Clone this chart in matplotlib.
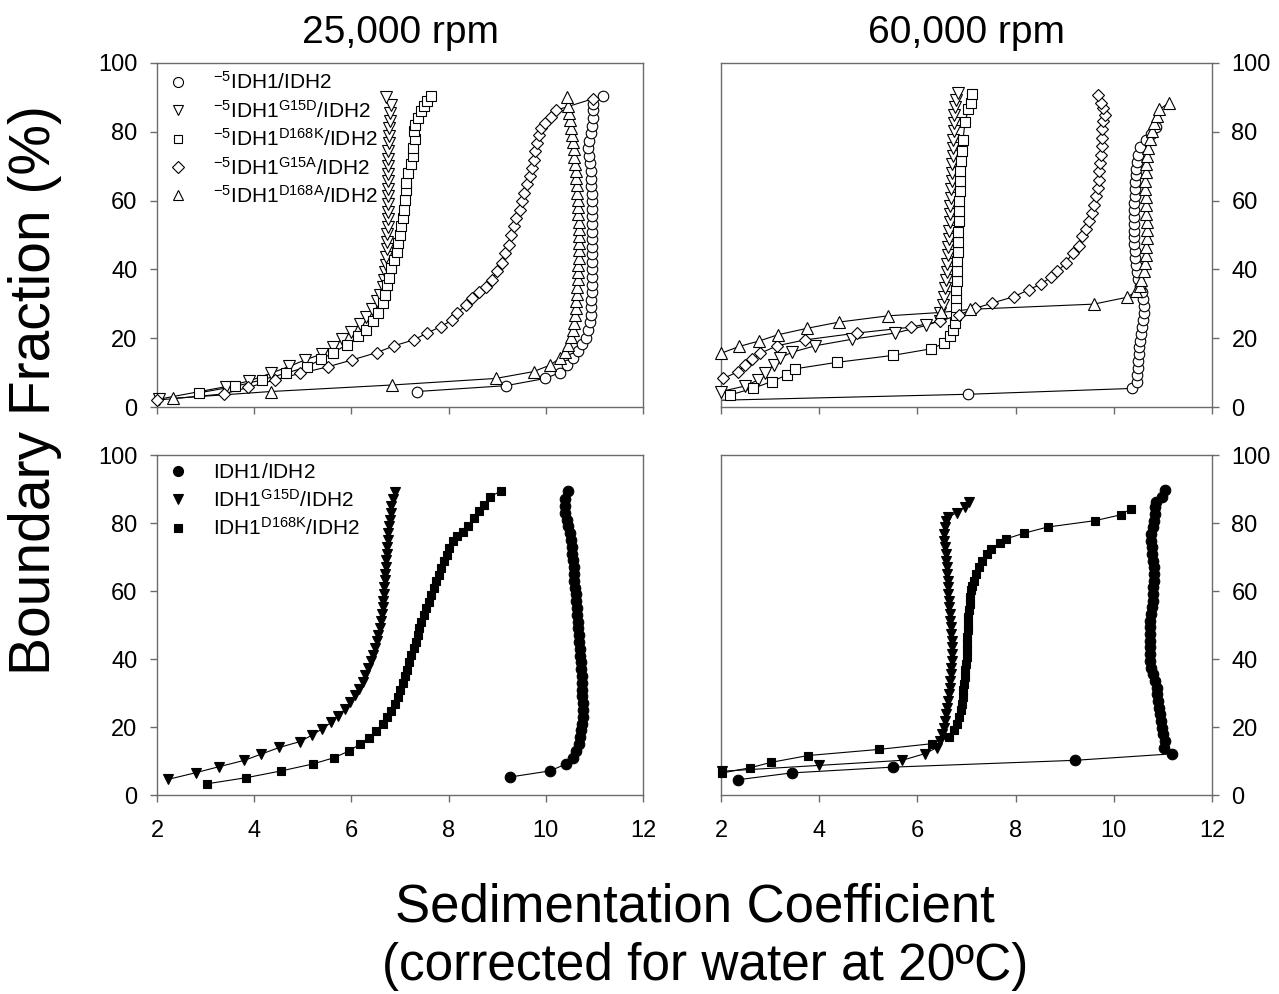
import matplotlib
matplotlib.use('Agg')
import matplotlib.pyplot as plt
from matplotlib.lines import Line2D
import numpy as np

plt.rcParams['font.family'] = ['Liberation Sans', 'DejaVu Sans']
plt.rcParams['mathtext.fontset'] = 'custom'
plt.rcParams['mathtext.rm'] = 'Liberation Sans'
plt.rcParams['mathtext.it'] = 'Liberation Sans:italic'
plt.rcParams['mathtext.bf'] = 'Liberation Sans:bold'
plt.rcParams['mathtext.sf'] = 'Liberation Sans'

# ---------------- data (sedimentation coefficient, boundary fraction %) ----------------
# 25,000 rpm, open symbols (-5 constructs)
o25_wt = [(7.35,4.5),(9.18,6.2),(9.99,8.3),(10.29,10.0),(10.44,12.2),(10.55,14.2),(10.66,16.2),(10.75,18.2),
          (10.82,20.2),(10.87,22.4),(10.90,24.6),(10.92,26.8),(10.93,29.0),(10.94,31.2),(10.95,33.4),(10.95,35.6),
          (10.96,37.8),(10.96,40.0),(10.96,42.2),(10.96,44.4),(10.96,46.6),(10.96,48.8),(10.96,51.0),(10.96,53.2),
          (10.96,55.4),(10.95,57.6),(10.95,59.8),(10.95,62.0),(10.94,64.2),(10.93,66.4),(10.92,68.6),(10.90,70.8),
          (10.88,73.0),(10.87,75.2),(10.88,77.4),(10.92,79.6),(10.96,81.8),(10.98,84.0),(10.98,86.2),(10.98,88.0),
          (11.18,90.3)]
o25_g15d = [(2.05,2.3),(3.41,5.9),(3.90,7.6),(4.34,9.8),(4.72,11.8),(5.05,13.7),(5.39,15.4),(5.62,17.5),(5.80,19.7),
            (6.00,21.9),(6.18,24.2),(6.31,26.3),(6.43,28.4),(6.52,30.7),(6.58,32.6),(6.64,34.9),(6.67,37.0),(6.69,39.2),
            (6.71,41.4),(6.72,43.6),(6.73,45.8),(6.74,48.0),(6.74,50.2),(6.75,52.4),(6.75,54.6),(6.75,56.8),(6.76,59.0),
            (6.76,61.2),(6.76,63.4),(6.76,65.6),(6.76,67.8),(6.76,70.0),(6.76,72.2),(6.76,74.4),(6.77,76.6),(6.77,78.8),
            (6.78,81.0),(6.79,83.2),(6.80,85.5),(6.82,87.8),(6.72,90.0)]
o25_d168k = [(2.86,4.1),(3.61,6.0),(4.16,7.9),(4.65,9.8),(5.09,11.7),(5.38,13.9),(5.63,15.8),(5.90,18.1),(6.14,20.5),
             (6.31,22.4),(6.45,24.9),(6.55,27.3),(6.65,30.2),(6.70,32.6),(6.74,35.5),(6.77,37.5),(6.82,40.4),(6.88,42.8),
             (6.93,45.2),(6.96,47.7),(6.99,50.1),(7.03,52.5),(7.06,55.0),(7.08,57.4),(7.10,60.3),(7.12,63.2),(7.13,65.1),
             (7.16,68.1),(7.23,70.5),(7.27,72.9),(7.27,75.3),(7.30,77.8),(7.28,80.2),(7.30,82.1),(7.37,84.1),(7.44,86.0),
             (7.50,87.5),(7.56,88.9),(7.64,90.4)]
o25_g15a = [(2.00,2.0),(3.37,3.8),(3.88,5.7),(4.43,7.9),(4.95,9.8),(5.52,11.7),(6.02,13.7),(6.52,15.8),(6.88,17.8),
            (7.28,19.5),(7.56,21.5),(7.84,23.4),(8.08,25.3),(8.18,27.3),(8.35,29.7),(8.49,31.7),(8.62,33.3),(8.76,35.0),
            (8.90,37.0),(9.00,39.4),(9.10,41.8),(9.17,44.8),(9.24,47.2),(9.29,50.1),(9.34,52.5),(9.39,55.0),(9.46,57.4),
            (9.51,59.8),(9.56,62.2),(9.61,64.7),(9.67,67.1),(9.71,69.5),(9.75,71.9),(9.78,74.4),(9.82,76.8),(9.85,79.2),
            (9.90,81.2),(9.99,82.6),(10.10,84.3),(10.22,86.3),(10.97,89.6)]
o25_d168a = [(2.33,2.5),(4.34,4.5),(6.84,6.4),(8.97,8.3),(9.75,10.3),(10.09,12.2),(10.29,14.2),(10.39,16.1),(10.46,18.1),
             (10.52,20.3),(10.56,22.4),(10.58,24.5),(10.60,26.6),(10.62,28.7),(10.63,30.8),(10.64,32.9),(10.65,35.0),
             (10.66,37.1),(10.66,39.2),(10.67,41.3),(10.68,43.4),(10.68,45.5),(10.68,47.6),(10.68,49.7),(10.68,51.8),
             (10.68,53.9),(10.67,56.0),(10.67,58.1),(10.66,60.2),(10.65,62.3),(10.64,64.4),(10.63,66.5),(10.62,68.6),
             (10.61,70.7),(10.59,72.8),(10.57,74.9),(10.55,77.0),(10.53,79.1),(10.51,81.2),(10.50,83.3),(10.48,85.4),
             (10.46,87.5),(10.44,90.0)]

# 60,000 rpm, open symbols
o60_wt = [(1.80,1.9),(7.03,3.7),(10.38,5.4),(10.47,7.4),(10.48,9.3),(10.49,11.3),(10.50,13.3),(10.51,15.3),(10.52,17.3),
          (10.54,19.3),(10.56,21.3),(10.58,23.3),(10.60,25.3),(10.61,27.3),(10.61,29.3),(10.60,31.3),(10.57,33.3),
          (10.53,35.3),(10.50,37.3),(10.47,39.3),(10.45,41.3),(10.44,43.3),(10.43,45.3),(10.42,47.3),(10.41,49.3),
          (10.41,51.3),(10.41,53.3),(10.41,55.3),(10.42,57.3),(10.42,59.3),(10.43,61.3),(10.43,63.3),(10.44,65.3),
          (10.45,67.3),(10.46,69.3),(10.47,71.3),(10.49,73.3),(10.53,75.5),(10.65,77.5),(10.76,79.3),(10.86,81.3)]
o60_g15d = [(2.00,4.5),(2.49,6.1),(2.76,7.9),(2.90,10.0),(3.07,12.2),(3.20,14.2),(3.44,15.9),(3.92,17.8),(4.67,19.7),
            (5.55,21.5),(6.18,23.7),(6.46,25.1),(6.47,27.3),(6.52,29.7),(6.55,32.1),(6.57,34.5),(6.59,36.9),(6.60,39.3),
            (6.61,41.7),(6.62,44.1),(6.63,46.5),(6.64,48.9),(6.65,51.3),(6.66,53.7),(6.66,56.1),(6.67,58.5),(6.68,60.9),
            (6.69,63.3),(6.70,65.7),(6.71,68.1),(6.71,70.5),(6.72,72.9),(6.72,75.3),(6.73,77.7),(6.74,80.1),(6.74,82.5),
            (6.75,84.9),(6.77,87.3),(6.79,89.3),(6.82,91.4)]
o60_d168k = [(2.18,3.5),(2.65,5.4),(3.03,7.4),(3.34,9.3),(3.51,11.1),(4.37,13.0),(5.50,15.0),(6.27,16.9),(6.54,18.5),
             (6.66,20.5),(6.73,22.4),(6.76,24.4),(6.78,26.8),(6.78,29.2),(6.79,31.6),(6.79,34.0),(6.80,36.5),(6.80,39.4),
             (6.81,42.3),(6.82,45.2),(6.82,48.1),(6.83,51.0),(6.84,54.0),(6.84,56.9),(6.85,59.8),(6.86,62.7),(6.86,65.6),
             (6.87,68.5),(6.88,71.5),(6.90,74.4),(6.93,77.7),(6.97,82.9),(7.04,86.5),(7.09,88.4),(7.11,90.9)]
o60_g15a = [(2.05,8.3),(2.35,10.3),(2.49,12.2),(2.63,13.9),(2.80,15.6),(3.14,17.8),(3.71,19.5),(4.77,21.5),(5.86,23.2),
            (6.46,24.9),(6.84,26.8),(7.18,28.7),(7.52,30.2),(7.97,32.1),(8.27,34.1),(8.51,35.7),(8.72,37.7),(8.85,39.4),
            (9.02,41.8),(9.16,44.8),(9.29,46.9),(9.36,49.6),(9.43,51.6),(9.50,54.0),(9.56,56.4),(9.60,58.8),(9.63,61.3),
            (9.67,63.7),(9.69,66.1),(9.70,68.5),(9.72,71.0),(9.73,73.4),(9.75,75.8),(9.75,78.3),(9.75,80.7),(9.77,83.1),
            (9.82,85.0),(9.79,87.0),(9.73,88.4),(9.67,90.6)]
o60_d168a = [(2.00,15.6),(2.37,17.6),(2.78,19.2),(3.16,21.0),(3.76,22.9),(4.41,24.7),(5.40,26.5),(6.49,27.5),(7.08,28.4),
             (9.59,29.9),(10.27,31.9),(10.45,33.6),(10.53,35.3),(10.56,37.0),(10.61,39.4),(10.63,41.8),(10.65,44.2),
             (10.66,46.6),(10.67,49.0),(10.67,51.4),(10.67,53.8),(10.66,56.2),(10.65,58.6),(10.65,61.0),(10.64,63.4),
             (10.64,65.8),(10.65,68.2),(10.66,70.6),(10.68,73.0),(10.70,75.4),(10.74,77.8),(10.78,80.2),(10.82,82.6),
             (10.87,84.6),(10.93,86.5),(11.13,88.5)]

# 25,000 rpm, filled symbols
f25_wt = [(9.27,5.3),(10.09,7.1),(10.41,9.1),(10.55,11.0),(10.63,13.0),(10.68,15.0),(10.71,17.0),(10.73,19.0),(10.75,21.0),
          (10.76,23.0),(10.76,25.0),(10.76,27.0),(10.75,29.0),(10.75,31.0),(10.74,33.0),(10.74,35.0),(10.73,37.0),
          (10.72,39.0),(10.71,41.0),(10.70,43.0),(10.69,45.0),(10.68,47.0),(10.67,49.0),(10.66,51.0),(10.65,53.0),
          (10.64,55.0),(10.63,57.0),(10.62,59.0),(10.61,61.0),(10.59,63.0),(10.58,65.0),(10.57,67.0),(10.56,69.0),
          (10.54,71.0),(10.53,73.0),(10.51,75.0),(10.49,77.0),(10.46,79.0),(10.43,81.0),(10.40,83.0),(10.39,85.0),
          (10.40,87.0),(10.45,89.5)]
f25_g15d = [(2.23,4.6),(2.81,6.6),(3.27,8.3),(3.80,10.2),(4.14,12.0),(4.52,14.0),(4.94,15.7),(5.19,17.6),(5.39,19.4),
            (5.59,21.4),(5.73,23.3),(5.87,25.3),(5.97,27.3),(6.07,29.3),(6.16,31.3),(6.23,33.3),(6.29,35.3),(6.35,37.3),
            (6.40,39.3),(6.45,41.3),(6.48,43.2),(6.52,45.2),(6.55,47.2),(6.59,49.2),(6.60,51.2),(6.62,53.2),(6.64,55.2),
            (6.65,57.1),(6.67,59.1),(6.68,61.1),(6.69,63.1),(6.70,65.1),(6.71,67.1),(6.72,69.1),(6.73,71.0),(6.74,73.0),
            (6.75,75.0),(6.76,77.0),(6.78,79.0),(6.79,81.0),(6.81,83.0),(6.82,85.0),(6.85,87.0),(6.89,89.0)]
f25_d168k = [(3.03,3.3),(3.84,5.1),(4.56,7.1),(5.20,9.1),(5.65,11.0),(5.96,13.0),(6.18,15.0),(6.36,16.9),(6.50,18.7),
             (6.65,20.9),(6.74,22.9),(6.82,24.8),(6.89,26.8),(6.95,28.8),(7.01,30.9),(7.06,32.9),(7.11,34.9),(7.15,36.8),
             (7.18,39.1),(7.23,41.1),(7.28,43.1),(7.32,45.0),(7.37,47.0),(7.40,49.0),(7.44,50.9),(7.49,52.9),(7.54,54.9),
             (7.59,56.8),(7.64,58.8),(7.69,60.8),(7.74,62.8),(7.80,64.7),(7.84,66.7),(7.91,68.7),(7.97,70.6),(8.01,72.6),
             (8.10,74.6),(8.18,76.1),(8.29,77.5),(8.39,79.0),(8.52,81.5),(8.63,83.4),(8.73,85.4),(8.86,87.7),(9.07,89.4)]

# 60,000 rpm, filled symbols
f60_wt = [(2.35,4.5),(3.44,6.5),(5.50,8.2),(9.21,10.2),(11.18,12.1),(11.03,13.9),(11.04,15.8),(11.01,17.8),(10.99,19.8),
          (10.97,21.7),(10.95,23.7),(10.93,25.7),(10.90,27.6),(10.89,29.6),(10.88,31.6),(10.84,33.5),(10.79,35.5),
          (10.76,37.5),(10.74,39.4),(10.74,41.4),(10.74,43.4),(10.74,45.3),(10.73,47.3),(10.73,49.3),(10.74,51.2),
          (10.76,53.2),(10.77,55.2),(10.79,57.1),(10.80,59.1),(10.80,61.1),(10.81,63.0),(10.81,65.0),(10.81,67.0),
          (10.80,68.9),(10.78,70.9),(10.77,72.9),(10.76,74.8),(10.76,76.8),(10.79,78.8),(10.82,80.7),(10.84,82.7),
          (10.84,84.7),(10.86,86.1),(10.99,87.6),(11.04,89.6)]
f60_g15d = [(2.03,7.0),(3.99,8.7),(5.69,10.2),(6.16,12.2),(6.39,13.9),(6.47,15.8),(6.50,17.8),(6.54,19.8),(6.56,21.7),
            (6.58,23.7),(6.61,25.7),(6.63,27.6),(6.65,29.6),(6.66,31.6),(6.67,33.5),(6.69,35.5),(6.69,37.5),(6.71,39.4),
            (6.71,41.4),(6.71,43.4),(6.70,45.3),(6.69,47.3),(6.68,49.3),(6.67,51.2),(6.66,53.2),(6.65,55.2),(6.64,57.1),
            (6.63,59.1),(6.62,61.1),(6.62,63.0),(6.61,65.0),(6.60,67.0),(6.59,68.9),(6.58,70.9),(6.56,72.9),(6.55,74.8),
            (6.55,76.8),(6.56,78.8),(6.59,80.7),(6.62,81.7),(6.80,83.0),(6.96,84.7),(7.05,86.1)]
f60_d168k = [(2.03,6.5),(2.59,8.0),(3.02,9.6),(3.77,11.6),(5.21,13.4),(6.30,15.1),(6.64,17.0),(6.74,19.0),(6.81,20.9),
             (6.84,22.9),(6.88,24.9),(6.90,26.8),(6.92,28.8),(6.93,30.8),(6.95,32.7),(6.96,34.7),(6.97,36.7),(6.99,38.6),
             (7.00,40.6),(7.00,42.6),(7.01,44.5),(7.02,46.5),(7.03,48.5),(7.04,50.4),(7.04,52.4),(7.05,54.4),(7.07,56.3),
             (7.08,58.3),(7.10,60.3),(7.12,61.6),(7.15,63.0),(7.20,65.0),(7.25,67.0),(7.32,68.9),(7.41,70.9),(7.50,72.4),
             (7.68,74.0),(7.80,75.3),(8.17,77.0),(8.65,78.8),(9.62,80.7),(10.14,82.4),(10.35,84.2)]

open_labels = [r'$^{\mathrm{-5}}$IDH1/IDH2',
               r'$^{\mathrm{-5}}$IDH1$^{\mathrm{G15D}}$/IDH2',
               r'$^{\mathrm{-5}}$IDH1$^{\mathrm{D168K}}$/IDH2',
               r'$^{\mathrm{-5}}$IDH1$^{\mathrm{G15A}}$/IDH2',
               r'$^{\mathrm{-5}}$IDH1$^{\mathrm{D168A}}$/IDH2']
filled_labels = [r'IDH1$^{\mathrm{ }}$/IDH2',
                 r'IDH1$^{\mathrm{G15D}}$/IDH2',
                 r'IDH1$^{\mathrm{D168K}}$/IDH2']
panel_titles = ['25,000 rpm', '60,000 rpm']
x_ticks = [2, 4, 6, 8, 10, 12]
y_ticks = [0, 20, 40, 60, 80, 100]

# ---------------- styling ----------------
open_markers = [('o', 7.6), ('v', 8.2), ('s', 6.8), ('D', 6.6), ('^', 8.2)]
filled_markers = [('o', 7.6), ('v', 7.4), ('s', 6.2)]
SPINE = '#6b6b6b'

W, H = 1279, 994
fig = plt.figure(figsize=(W / 100, H / 100), dpi=100)


def px_axes(l, t, r, b):
    return fig.add_axes([l / W, 1 - b / H, (r - l) / W, (b - t) / H])


ax_tl = px_axes(157, 63, 643, 407)
ax_tr = px_axes(721, 63, 1212, 407)
ax_bl = px_axes(157, 455, 643, 795)
ax_br = px_axes(721, 455, 1212, 795)


def style_axes(ax, right, xlabels):
    ax.set_xlim(2, 12)
    ax.set_ylim(0, 100)
    ax.set_xticks(x_ticks)
    ax.set_yticks(y_ticks)
    for s in ax.spines.values():
        s.set_color(SPINE)
        s.set_linewidth(1.0)
    ax.tick_params(direction='out', length=5, width=1.0, color=SPINE,
                   labelsize=17, labelcolor='black')
    ax.tick_params(axis='x', pad=13, labelbottom=xlabels)
    ax.tick_params(axis='y', pad=9)
    if right:
        ax.yaxis.tick_right()


def draw(ax, pts, marker, ms, filled):
    x = np.array([p[0] for p in pts])
    y = np.array([p[1] for p in pts])
    ax.plot(x, y, '-', color='black', lw=0.8, zorder=2)
    m = (x >= 2) & (x <= 12)
    ax.plot(x[m], y[m], ls='none', marker=marker, ms=ms,
            mfc='black' if filled else 'white', mec='black', mew=0.8,
            zorder=3, clip_on=False)


open25 = [o25_wt, o25_g15d, o25_d168k, o25_g15a, o25_d168a]
open60 = [o60_wt, o60_g15d, o60_d168k, o60_g15a, o60_d168a]
fill25 = [f25_wt, f25_g15d, f25_d168k]
fill60 = [f60_wt, f60_g15d, f60_d168k]

for ax, group, mk, filled in [(ax_tl, open25, open_markers, False),
                              (ax_tr, open60, open_markers, False),
                              (ax_bl, fill25, filled_markers, True),
                              (ax_br, fill60, filled_markers, True)]:
    for pts, (m, ms) in zip(group, mk):
        draw(ax, pts, m, ms, filled)

style_axes(ax_tl, False, False)
style_axes(ax_tr, True, False)
style_axes(ax_bl, False, True)
style_axes(ax_br, True, True)

# legends
h_open = [Line2D([], [], ls='none', marker=m, ms=ms * 0.95, mfc='white', mec='black', mew=0.8)
          for m, ms in open_markers]
h_fill = [Line2D([], [], ls='none', marker=m, ms=ms * 0.95, mfc='black', mec='black', mew=0.8)
          for m, ms in filled_markers]
leg_kw = dict(loc='upper left', bbox_to_anchor=(0.0, 1.0), frameon=False, fontsize=15,
              handlelength=1.2, handletextpad=1.1, borderpad=0.3, borderaxespad=0.1,
              labelspacing=0.31)
ax_tl.legend(h_open, open_labels, **leg_kw)
ax_bl.legend(h_fill, filled_labels, **leg_kw)

# titles and axis labels
fig.text(400 / W, 1 - 33 / H, panel_titles[0], ha='center', va='center', fontsize=28)
fig.text(966 / W, 1 - 33 / H, panel_titles[1], ha='center', va='center', fontsize=28)
fig.text(35 / W, 1 - 390 / H, 'Boundary Fraction (%)', rotation=90,
         ha='center', va='center', fontsize=41)
fig.text(695 / W, 1 - 922 / H, 'Sedimentation Coefficient', ha='center',
         va='baseline', fontsize=38)
fig.text(705 / W, 1 - 980 / H, '(corrected for water at 20\u00baC)', ha='center',
         va='baseline', fontsize=37)

fig.savefig('out.png', dpi=100)
